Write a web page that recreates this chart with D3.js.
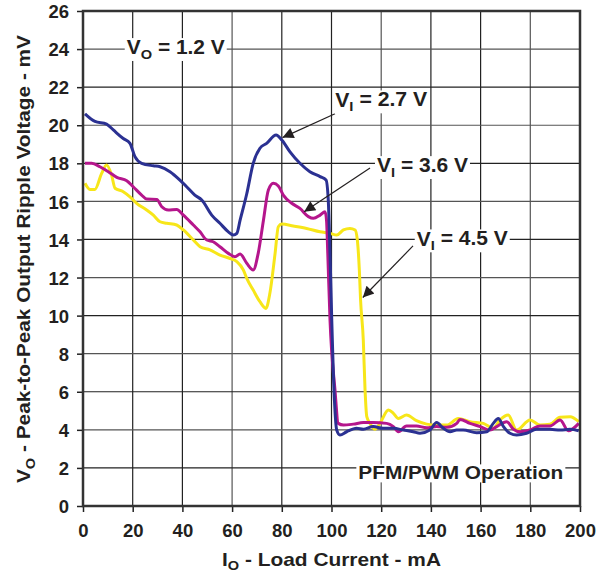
<!DOCTYPE html>
<html>
<head>
<meta charset="utf-8">
<script src="https://cdn.jsdelivr.net/npm/d3@7"></script>
<style>
  body { margin: 0; background: #fff; }
  text { font-family: "Liberation Sans", Arial, sans-serif; font-weight: bold; fill: #231f20; }
</style>
</head>
<body>
<div id="chart"></div>
<script>
// data: load current (mA) and ripple (mV)
const vi27_x = [0.8, 4.8, 9.5, 12.2, 16.2, 18.9, 20.9, 23.6, 28.3, 31, 35, 39, 41.7, 45, 47.8, 51.8, 55.1, 58.5, 60.5, 61.9, 63.2, 65.9, 68.5, 71.2, 73.9, 77.7, 80, 83.3, 87.3, 91.3, 95.4, 97.8, 98.7, 99.4, 100.1, 101.2, 102.1, 103.4, 106.1, 110.1, 112.8, 116.8, 120.8, 124.9, 128.9, 132.9, 135.6, 139.6, 142.3, 145, 147.7, 150.4, 153, 158.4, 162.5, 165.1, 167.1, 169.2, 171.8, 174.5, 178.5, 182.5, 187.9, 192, 196, 199.5];
const vi27_y = [20.6, 20.2, 20.06, 19.75, 19.3, 19.05, 18.35, 18.0, 17.87, 17.82, 17.56, 17.12, 16.77, 16.33, 16.07, 15.28, 14.85, 14.4, 14.23, 14.32, 15.0, 16.4, 18.0, 18.79, 19.05, 19.49, 19.22, 18.6, 18.0, 17.56, 17.3, 17.12, 16.07, 13.27, 9.77, 5.5, 3.99, 3.73, 3.9, 4.08, 4.03, 4.17, 4.08, 4.08, 3.99, 3.9, 3.82, 3.99, 4.38, 4.08, 3.9, 3.99, 3.99, 3.85, 3.9, 4.34, 4.6, 4.17, 3.82, 3.73, 3.82, 4.03, 4.03, 3.99, 4.03, 3.95];

const vi36_x = [0.8, 3.5, 6.8, 10.2, 13.6, 17.6, 20.2, 23.6, 25.6, 29.7, 31.7, 34.3, 37.7, 40.4, 44.4, 47.1, 49.8, 52.4, 55.1, 58.5, 61.2, 63.2, 65.9, 68.5, 70.5, 72.6, 74.6, 76.6, 78.6, 80.6, 84, 87.3, 90.7, 92.7, 95.4, 97.4, 98, 98.5, 99.4, 101.4, 102.7, 104.8, 108.8, 112.8, 116.8, 122.2, 124.9, 126.9, 130.2, 134.2, 138.3, 142.3, 146.4, 150.4, 151.7, 155.7, 159.8, 163.8, 166.5, 170.5, 173.2, 175.9, 179.9, 183.9, 187.9, 192, 195.3, 199.5];
const vi36_y = [18.0, 18.0, 17.82, 17.56, 17.26, 17.09, 16.77, 16.33, 16.12, 16.1, 15.72, 15.55, 15.58, 15.28, 14.76, 14.4, 13.97, 13.88, 13.62, 13.27, 13.09, 13.24, 12.75, 12.4, 13.27, 15.0, 16.6, 16.95, 16.81, 16.33, 15.9, 15.63, 15.2, 15.11, 15.28, 15.46, 15.0, 13.27, 9.77, 6.1, 4.34, 4.25, 4.3, 4.38, 4.38, 4.34, 4.17, 3.9, 4.2, 4.2, 4.11, 4.17, 4.13, 4.34, 4.55, 4.34, 4.17, 3.99, 4.17, 4.43, 4.03, 3.9, 3.99, 4.2, 4.2, 4.52, 3.95, 4.34];

const vi45_x = [0.8, 2.8, 4.8, 7.5, 9.5, 11.5, 12.9, 16.2, 18.9, 21.6, 25.6, 28.3, 31, 33.7, 37.7, 40.4, 44.4, 47.1, 51.1, 55.1, 59.2, 61.9, 64.5, 65.9, 68.5, 71.2, 73.6, 75.2, 77.3, 78.6, 80, 84.6, 90, 95.4, 99.4, 102.1, 104.8, 107.4, 109.5, 110.4, 111.2, 111.7, 112.8, 113.5, 114.2, 115.5, 117.5, 119.5, 122.9, 124.9, 126.9, 130.2, 134.2, 138.3, 142.3, 146.4, 151, 155.7, 161.1, 165.1, 167.8, 171.1, 174.5, 179.9, 183.9, 187.9, 192, 196, 199.5];
const vi45_y = [16.95, 16.63, 16.63, 17.47, 17.91, 17.38, 16.69, 16.51, 16.24, 15.9, 15.55, 15.28, 14.93, 14.85, 14.76, 14.5, 13.97, 13.62, 13.45, 13.18, 13.0, 12.83, 12.4, 11.96, 11.34, 10.73, 10.38, 11.17, 13.27, 14.67, 14.81, 14.71, 14.58, 14.4, 14.32, 14.23, 14.5, 14.58, 14.5, 13.97, 12.4, 10.82, 8.7, 6.1, 4.69, 4.34, 4.03, 4.34, 5.04, 4.87, 4.6, 4.78, 4.48, 4.3, 4.25, 4.25, 4.6, 4.43, 4.34, 4.08, 4.52, 4.78, 3.99, 4.52, 4.25, 4.29, 4.66, 4.69, 4.43];

const x_ticks = [0, 20, 40, 60, 80, 100, 120, 140, 160, 180, 200];
const y_ticks = [0, 2, 4, 6, 8, 10, 12, 14, 16, 18, 20, 22, 24, 26];

// chart static params
const width_total = 613, height_total = 573;
const margin = {top: 11, right: 33, bottom: 67, left: 83},
    width = width_total - margin.left - margin.right,
    height = height_total - margin.top - margin.bottom;

const svg = d3.select("#chart")
  .append("svg")
    .attr("width", width_total)
    .attr("height", height_total)
  .append("g")
    .attr("transform", "translate(" + margin.left + "," + margin.top + ")");

const x = d3.scaleLinear().domain([0, 200]).range([0, width]);
const y = d3.scaleLinear().domain([0, 26]).range([height, 0]);

// grid
svg.append("g")
  .selectAll("line")
  .data(x_ticks)
  .join("line")
    .attr("x1", d => x(d)).attr("x2", d => x(d))
    .attr("y1", 0).attr("y2", height)
    .attr("stroke", (d, i) => i % 3 == 0 ? "#555" : "#222")
    .attr("stroke-width", 1.2);
svg.append("g")
  .selectAll("line")
  .data(y_ticks)
  .join("line")
    .attr("x1", 0).attr("x2", width)
    .attr("y1", d => y(d)).attr("y2", d => y(d))
    .attr("stroke", (d, i) => i % 2 == 0 ? "#555" : "#222")
    .attr("stroke-width", 1.2);

// axes
const xAxis = svg.append("g")
  .attr("transform", `translate(0,${height})`)
  .call(d3.axisBottom(x).tickValues(x_ticks).tickSize(6).tickPadding(8));
const yAxis = svg.append("g")
  .call(d3.axisLeft(y).tickValues(y_ticks).tickSize(6).tickPadding(8));
[xAxis, yAxis].forEach(a => {
  a.select(".domain").remove();
  a.selectAll(".tick line").attr("stroke", "#222").attr("stroke-width", 1.5);
  a.selectAll(".tick text").attr("font-size", 18.5).attr("font-family", "Liberation Sans, Arial, sans-serif").attr("font-weight", "bold").attr("fill", "#231f20");
});
xAxis.selectAll(".tick text").attr("dy", "0.9em");
yAxis.selectAll(".tick text").attr("dy", "0.36em");

// curves
const line = d3.line()
  .x(d => x(d[0]))
  .y(d => y(d[1]))
  .curve(d3.curveMonotoneX);

const series = [
  {xs: vi27_x, ys: vi27_y, color: "#2b3192"},
  {xs: vi36_x, ys: vi36_y, color: "#b5168c"},
  {xs: vi45_x, ys: vi45_y, color: "#f7e619"}
];
// yellow drawn first so the others sit above it in the flat part
[series[2], series[1], series[0]].forEach(s => {
  svg.append("path")
    .datum(d3.zip(s.xs, s.ys))
    .attr("fill", "none")
    .attr("stroke", s.color)
    .attr("stroke-width", 3)
    .attr("stroke-linejoin", "round")
    .attr("d", line);
});

// frame
svg.append("rect")
  .attr("x", 0).attr("y", 0)
  .attr("width", width).attr("height", height)
  .attr("fill", "none")
  .attr("stroke", "#333")
  .attr("stroke-width", 2.5);

// arrow marker
svg.append("defs").append("marker")
  .attr("id", "arrow")
  .attr("viewBox", "0 0 10 10")
  .attr("refX", 10).attr("refY", 5)
  .attr("markerWidth", 14).attr("markerHeight", 11)
  .attr("markerUnits", "userSpaceOnUse")
  .attr("orient", "auto")
  .append("path")
    .attr("d", "M0,0 L10,5 L0,10 Z")
    .attr("fill", "#231f20");

// annotations, positions in data units
const arrows = [
  {from: [101.4, 20.6], to: [80.3, 19.35]},
  {from: [115.5, 17.75], to: [89.0, 15.45]},
  {from: [132.8, 13.66], to: [112.6, 10.95]}
];
arrows.forEach(a => {
  svg.append("line")
    .attr("x1", x(a.from[0])).attr("y1", y(a.from[1]))
    .attr("x2", x(a.to[0])).attr("y2", y(a.to[1]))
    .attr("stroke", "#231f20")
    .attr("stroke-width", 1.2)
    .attr("marker-end", "url(#arrow)");
});

// the original lettering is a bit wider than Arial, so widths are forced
function label(xv, yv, main, sub, rest, size, len) {
  const t = svg.append("text")
    .attr("x", x(xv)).attr("y", y(yv))
    .attr("dy", "0.36em")
    .attr("font-size", size)
    .attr("textLength", len)
    .attr("lengthAdjust", "spacingAndGlyphs");
  t.append("tspan").text(main);
  if (sub) {
    t.append("tspan").attr("font-size", size * 0.7).attr("dy", "0.35em").text(sub);
    t.append("tspan").attr("dy", "-0.25em").text(rest);
  }
  const bb = t.node().getBBox();
  svg.insert("rect", function() { return t.node(); })
    .attr("x", bb.x - 2).attr("y", bb.y + 2)
    .attr("width", bb.width + 4).attr("height", bb.height - 3)
    .attr("fill", "#fff");
}
label(17.6, 24.1, "V", "O", " = 1.2 V", 19.5, 98);
label(101.5, 21.35, "V", "I", " = 2.7 V", 19.5, 92);
label(118.3, 17.9, "V", "I", " = 3.6 V", 19.5, 91);
label(134.3, 14.05, "V", "I", " = 4.5 V", 19.5, 91);
label(110.8, 1.75, "PFM/PWM Operation", null, null, 18.6, 205);

// add label left
const yl = svg.append("text")
  .attr("font-size", 18.6)
  .attr("textLength", 448)
  .attr("lengthAdjust", "spacingAndGlyphs")
  .attr("transform", `translate(${-margin.left + 30}, ${483 - margin.top}), rotate(-90)`);
yl.append("tspan").text("V");
yl.append("tspan").attr("font-size", 13).attr("dy", "0.35em").text("O");
yl.append("tspan").attr("dy", "-0.25em").text(" - Peak-to-Peak Output Ripple Voltage - mV");

// add label bottom
const xl = svg.append("text")
  .attr("font-size", 18.6)
  .attr("textLength", 219)
  .attr("lengthAdjust", "spacingAndGlyphs")
  .attr("transform", `translate(${222 - margin.left}, ${height + 60})`);
xl.append("tspan").text("I");
xl.append("tspan").attr("font-size", 13).attr("dy", "0.28em").text("O");
xl.append("tspan").attr("dy", "-0.2em").text(" - Load Current - mA");
</script>
</body>
</html>
